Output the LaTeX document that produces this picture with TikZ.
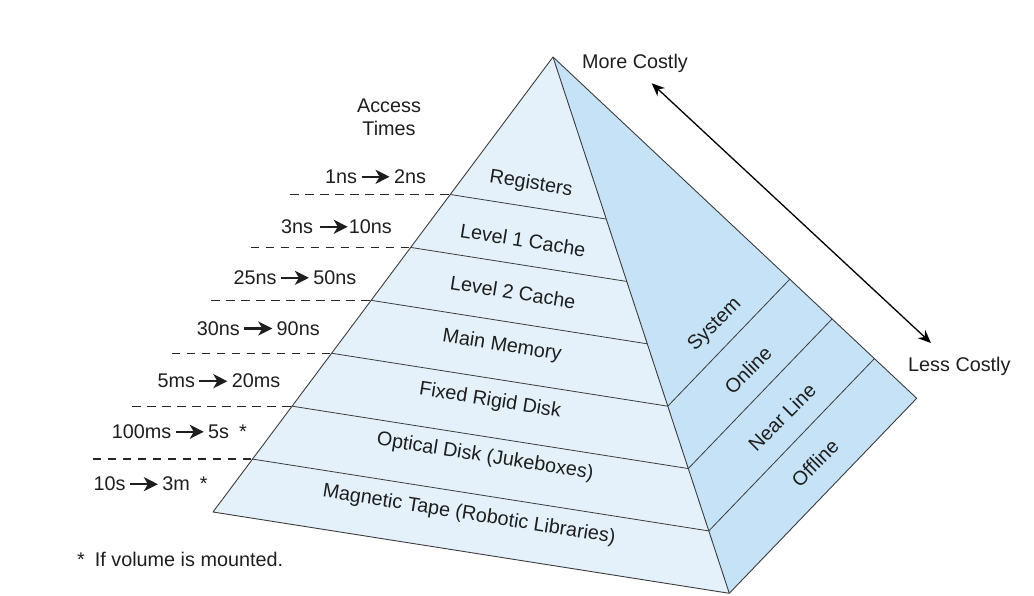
\documentclass[tikz,border=0pt]{standalone}
\usepackage{fontspec}
\setmainfont{Liberation Sans}
\usetikzlibrary{calc,arrows.meta}
\definecolor{leftface}{HTML}{E4F1FB}
\definecolor{rightface}{HTML}{C5E2F7}
\definecolor{edgegray}{HTML}{3C3C3C}
\definecolor{ink}{HTML}{1E1E1E}
\newcommand{\rarr}{\tikz[baseline=-6.5pt]\draw[line width=2.3pt,-{Stealth[length=14pt,width=14pt,inset=4pt]}] (0pt,0pt)--(28pt,0pt);}
\begin{document}
\begin{tikzpicture}[x=1pt,y=-1pt,
  font=\fontsize{19.8}{23}\selectfont, text=ink,
  facestroke/.style={draw=edgegray, line width=0.9pt, line join=round},
  divline/.style={draw=edgegray, line width=0.8pt},
  guide/.style={draw=black!85, dash pattern=on 8.5pt off 6.5pt, line width=1.2pt},
  layerlbl/.style={rotate=-9, inner sep=0pt},
  sidelbl/.style={rotate=45, inner sep=0pt},
  timelbl/.style={anchor=base west, inner sep=0pt},
  costarrow/.style={draw=black, line width=1.3pt, {Stealth[length=13pt,width=11pt]}-{Stealth[length=13pt,width=11pt]}}
]
\useasboundingbox (0,0) rectangle (1034,596);
\coordinate (A) at (553,57);
\coordinate (L) at (213,512);
\coordinate (F) at (729.3,593.3);
\coordinate (R) at (916.7,398.3);

\fill[leftface] (A)--(L)--(F)--cycle;
\fill[rightface] (A)--(F)--(R)--cycle;

\foreach \k/\t in {1/0.3022,2/0.4185,3/0.5348,4/0.6511,5/0.7674,6/0.8837}{
  \coordinate (l\k) at ($(A)!\t!(L)$);
  \coordinate (f\k) at ($(A)!\t!(F)$);
  \coordinate (r\k) at ($(A)!\t!(R)$);
}
\foreach \k in {1,...,6} \draw[divline] (l\k)--(f\k);
\foreach \k in {4,5,6} \draw[divline] (f\k)--(r\k);
\draw[facestroke] (A)--(L)--(F)--(R)--cycle;
\draw[facestroke] (A)--(F);

% dashed guides
\foreach \k in {1,...,6} \draw[guide] ($(l\k)+(-160,0)$) -- (l\k);

% layer labels
\node[layerlbl] (reg) at (531,184) {Registers};
\node[layerlbl] (l1c) at (523,240) {Level 1 Cache};
\node[layerlbl] (l2c) at (513,292) {Level 2 Cache};
\node[layerlbl] (mm) at (502,346) {Main Memory};
\node[layerlbl] (frd) at (490,401) {Fixed Rigid Disk};
\node[layerlbl] (od) at (485,457) {Optical Disk (Jukeboxes)};
\node[layerlbl] (mt) at (469,515) {Magnetic Tape (Robotic Libraries)};

% side labels
\node[sidelbl] (sys) at (715,325) {System};
\node[sidelbl] (onl) at (748,370) {Online};
\node[sidelbl] (nl) at (782,417) {Near Line};
\node[sidelbl] (off) at (815,463) {Offline};

% access times
\node[align=center, inner sep=0pt] (acc) at (389,117) {Access\\Times};
\node[timelbl] (t1) at (325,183.3) {1ns\,\rarr\,2ns};
\node[timelbl] (t2) at (281,233.3) {3ns \rarr10ns};
\node[timelbl] (t3) at (233.3,284.3) {25ns\,\rarr\,50ns};
\node[timelbl] (t4) at (196.7,335) {30ns\,\rarr\,90ns};
\node[timelbl] (t5) at (157.3,387.7) {5ms\,\rarr\,20ms};
\node[timelbl] (t6) at (111.7,438.3) {100ms\,\rarr\,5s\hspace{10pt}*};
\node[timelbl] (t7) at (93.3,490.7) {10s\,\rarr\,3m\hspace{10pt}*};

\node[timelbl] (note) at (77,566.7) {*\hspace{10pt}If volume is mounted.};

% cost
\node[anchor=west, inner sep=0pt] (more) at (582,63) {More Costly};
\node[anchor=west, inner sep=0pt] (less) at (908,366) {Less Costly};
\coordinate (mctip) at (651.7,83.3);
\coordinate (lctip) at (931,343);
\draw[costarrow] (mctip) -- (lctip);
\end{tikzpicture}
\end{document}
